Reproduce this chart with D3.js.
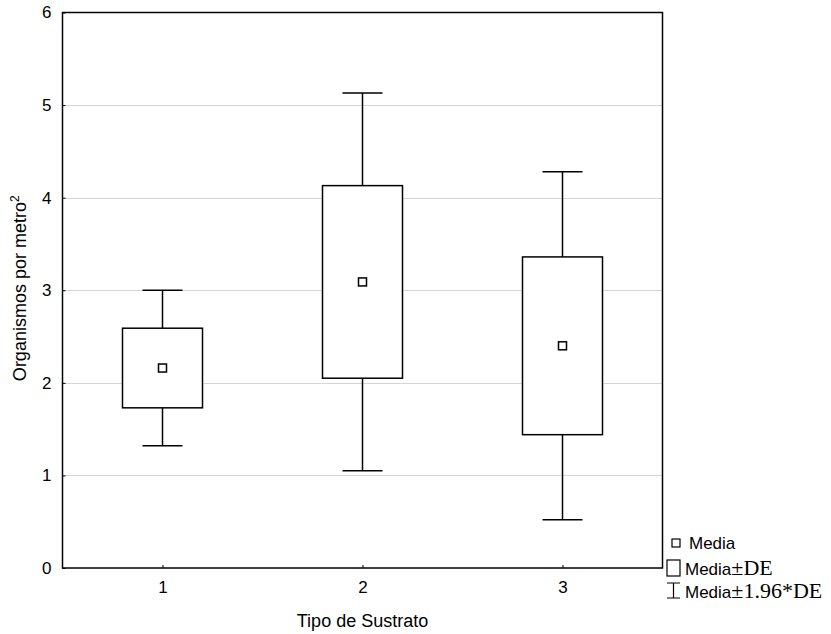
<!DOCTYPE html>
<html>
<head>
<meta charset="utf-8">
<script src="https://cdn.jsdelivr.net/npm/d3@7"></script>
<style>
  body { margin: 0; background: #fff; }
  text { font-family: "Liberation Sans", Arial, sans-serif; }
</style>
</head>
<body>
<div class="chart"></div>
<script>
// data
var categories = ['1', '2', '3'];
var means = [2.16, 3.09, 2.40];
var boxLow = [1.73, 2.05, 1.44];   // media - DE
var boxHigh = [2.59, 4.13, 3.36];  // media + DE
var whiskLow = [1.32, 1.05, 0.52]; // media - 1.96*DE
var whiskHigh = [3.00, 5.13, 4.28]; // media + 1.96*DE
var yTicks = [0, 1, 2, 3, 4, 5, 6];

var width = 831,
    height = 634;

var margin = {left: 62.5, top: 12.5, right: 662.5, bottom: 568};

var svg = d3.select('.chart')
  .append('svg')
  .attr('width', width)
  .attr('height', height);

var x = d3.scaleLinear()
  .domain([0.5, 3.5])
  .range([margin.left, margin.right]);

var y = d3.scaleLinear()
  .domain([0, 6])
  .range([margin.bottom, margin.top]);

// gridlines
svg.selectAll('.grid')
  .data(yTicks.slice(1, -1))
  .enter()
  .append('line')
  .attr('x1', margin.left)
  .attr('x2', margin.right)
  .attr('y1', (d) => Math.round(y(d)) + 0.5)
  .attr('y2', (d) => Math.round(y(d)) + 0.5)
  .style('stroke', '#aaa')
  .style('stroke-width', 1)
  .style('stroke-dasharray', '1,1');

// axes (ticks pointing inward)
var yAxis = d3.axisLeft(y)
  .tickValues(yTicks)
  .tickSizeInner(-3)
  .tickSizeOuter(0)
  .tickPadding(11)
  .tickFormat(d3.format('d'));

var xAxis = d3.axisBottom(x)
  .tickValues([1, 2, 3])
  .tickSizeInner(-3)
  .tickSizeOuter(0)
  .tickPadding(13)
  .tickFormat((d, i) => categories[i]);

var gy = svg.append('g')
  .attr('transform', 'translate(' + margin.left + ',0)')
  .call(yAxis);
var gx = svg.append('g')
  .attr('transform', 'translate(0,' + margin.bottom + ')')
  .call(xAxis);

[gx, gy].forEach(function(g) {
  g.select('.domain').remove();
  g.selectAll('line').style('stroke', '#000');
  g.selectAll('text')
    .style('font-size', '17px')
    .style('fill', '#000')
    .style('font-family', '"Liberation Sans", Arial, sans-serif');
});

// frame
svg.append('rect')
  .attr('x', margin.left)
  .attr('y', margin.top)
  .attr('width', margin.right - margin.left)
  .attr('height', margin.bottom - margin.top)
  .style('fill', 'none')
  .style('stroke', '#000')
  .style('stroke-width', 1.5);

// box plots
var boxHalf = 40,
    capHalf = 20;

var groups = svg.selectAll('.box')
  .data(categories)
  .enter()
  .append('g')
  .attr('class', 'box');

groups.append('line')
  .attr('x1', (d, i) => x(i + 1))
  .attr('x2', (d, i) => x(i + 1))
  .attr('y1', (d, i) => y(whiskHigh[i]))
  .attr('y2', (d, i) => y(whiskLow[i]));

groups.append('line')
  .attr('x1', (d, i) => x(i + 1) - capHalf)
  .attr('x2', (d, i) => x(i + 1) + capHalf)
  .attr('y1', (d, i) => y(whiskHigh[i]))
  .attr('y2', (d, i) => y(whiskHigh[i]));

groups.append('line')
  .attr('x1', (d, i) => x(i + 1) - capHalf)
  .attr('x2', (d, i) => x(i + 1) + capHalf)
  .attr('y1', (d, i) => y(whiskLow[i]))
  .attr('y2', (d, i) => y(whiskLow[i]));

groups.append('rect')
  .attr('x', (d, i) => x(i + 1) - boxHalf)
  .attr('y', (d, i) => y(boxHigh[i]))
  .attr('width', boxHalf * 2)
  .attr('height', (d, i) => y(boxLow[i]) - y(boxHigh[i]))
  .style('fill', '#fff');

groups.append('rect')
  .attr('x', (d, i) => x(i + 1) - 4)
  .attr('y', (d, i) => y(means[i]) - 4)
  .attr('width', 8)
  .attr('height', 8)
  .style('fill', '#fff');

groups.selectAll('line, rect')
  .style('stroke', '#000')
  .style('stroke-width', 1.5);

// axis titles
svg.append('text')
  .attr('x', x(2))
  .attr('y', 627)
  .attr('text-anchor', 'middle')
  .style('font-size', '18px')
  .text('Tipo de Sustrato');

var yt = svg.append('text')
  .attr('transform', 'translate(26,' + (y(3) - 2) + ') rotate(-90)')
  .attr('text-anchor', 'middle')
  .style('font-size', '18px');
yt.append('tspan').text('Organismos por metro');
yt.append('tspan')
  .attr('dy', -7)
  .style('font-size', '12px')
  .text('2');

// legend
var lg = svg.append('g');
lg.append('rect')
  .attr('x', 672).attr('y', 539).attr('width', 8).attr('height', 8)
  .style('fill', '#fff').style('stroke', '#000').style('stroke-width', 1.2);
lg.append('rect')
  .attr('x', 667).attr('y', 560).attr('width', 13).attr('height', 16)
  .style('fill', '#fff').style('stroke', '#000').style('stroke-width', 1.2);
lg.append('path')
  .attr('d', 'M667,583H680M673.5,583V598M667,598H680')
  .style('fill', 'none').style('stroke', '#000').style('stroke-width', 1.2);

lg.append('text').attr('x', 689).attr('y', 549)
  .style('font-size', '17px').text('Media');

var t2 = lg.append('text').attr('x', 685).attr('y', 575).style('font-size', '17px');
t2.append('tspan').text('Media');
t2.append('tspan').style('font-family', '"Liberation Serif", "Times New Roman", serif')
  .style('font-size', '22px').text('±DE');

var t3 = lg.append('text').attr('x', 685).attr('y', 598).style('font-size', '17px');
t3.append('tspan').text('Media');
t3.append('tspan').style('font-family', '"Liberation Serif", "Times New Roman", serif')
  .style('font-size', '22px').text('±1.96*DE');
</script>
</body>
</html>
